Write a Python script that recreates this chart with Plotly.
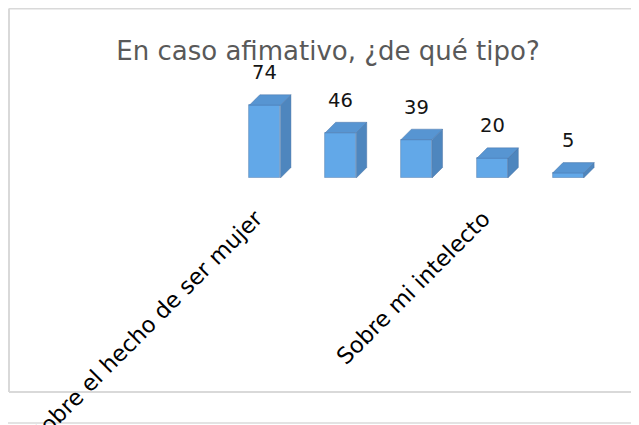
import plotly.graph_objects as go

# ---- data ----
title_text = "En caso afimativo, ¿de qué tipo?"
tick_labels = ["Sobre el hecho de ser mujer", "", "", "Sobre mi intelecto", ""]
values = [74, 46, 39, 20, 5]
positions = list(range(len(values)))

# ---- style ----
W, H = 639, 425
ML, MR, MT, MB = 219, 41, 52, 255
PW, PH = W - ML - MR, H - MT - MB
YMAX = 120
bar_w = 0.41
px_per_x = PW / 5.0
px_per_y = PH / YMAX
dx = 10.5 / px_per_x
dy = 10.5 / px_per_y

front_col = "#62A8E8"
side_col = "#4E86BE"
top_col = "#5795D2"
edge_col = "rgba(70,110,160,0.55)"
font_fam = "DejaVu Sans"

fig = go.Figure()

fig.add_trace(go.Bar(
    x=positions, y=values, width=bar_w,
    marker=dict(color=front_col, line=dict(color=edge_col, width=0.8)),
    hoverinfo="skip", showlegend=False,
))

for p, v in zip(positions, values):
    xl, xr = p - bar_w / 2, p + bar_w / 2
    fig.add_trace(go.Scatter(
        x=[xr, xr + dx, xr + dx, xr, xr], y=[0, dy, v + dy, v, 0],
        mode="lines", fill="toself", fillcolor=side_col,
        line=dict(color=edge_col, width=0.8), cliponaxis=False,
        hoverinfo="skip", showlegend=False,
    ))
    fig.add_trace(go.Scatter(
        x=[xl, xl + dx, xr + dx, xr, xl], y=[v, v + dy, v + dy, v, v],
        mode="lines", fill="toself", fillcolor=top_col,
        line=dict(color=edge_col, width=0.8), cliponaxis=False,
        hoverinfo="skip", showlegend=False,
    ))
    fig.add_annotation(
        x=p, y=v, yshift=32.5, text=str(v), showarrow=False,
        xanchor="center", yanchor="middle",
        font=dict(family=font_fam, size=19.5, color="#141414"),
    )

# category labels (rotated), drawn at the category positions
for p, lab in zip(positions, tick_labels):
    if not lab:
        continue
    fig.add_annotation(
        x=p, y=0, xref="x", yref="y", text=lab, showarrow=False,
        textangle=-45, xanchor="right", yanchor="top",
        xshift=6, yshift=-24,
        font=dict(family=font_fam, size=22.5, color="#000000"),
    )

def px_x(px):
    return (px - ML) / PW

def px_y(py):
    return (H - MB - py) / PH

border = "#D9D9D9"
for x0, y0, x1, y1, col in [
    (1, 0.5, 1, 384, border),          # left edge of chart box
    (1, 0.5, 660, 0.5, border),        # top edge
    (1, 384, 660, 384, border),        # bottom edge
    (-10, 415, 660, 415, "#E3E3E3"),   # lower separator
]:
    fig.add_shape(type="line", xref="paper", yref="paper",
                  x0=px_x(x0), x1=px_x(x1), y0=px_y(y0), y1=px_y(y1),
                  line=dict(color=col, width=2), layer="below")

fig.update_layout(
    width=W, height=H,
    margin=dict(l=ML, r=MR, t=MT, b=MB, pad=0, autoexpand=False),
    paper_bgcolor="white", plot_bgcolor="white",
    title=dict(text=title_text, x=320 / W, xanchor="center", xref="container",
               y=1 - 43 / H, yanchor="middle", yref="container",
               font=dict(family=font_fam, size=26, color="#595959")),
    xaxis=dict(range=[-0.5, 4.5], showticklabels=False, showgrid=False,
               zeroline=False, showline=False, ticks="", automargin=False),
    yaxis=dict(range=[0, YMAX], visible=False, automargin=False),
    bargap=0,
)

fig.write_html("out.html")
